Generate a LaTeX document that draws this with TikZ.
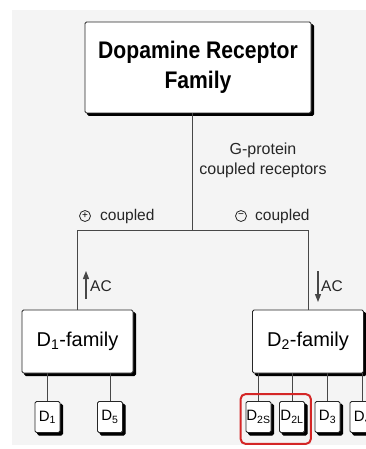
\documentclass[tikz,border=0pt]{standalone}
\usepackage{fontspec}
\setmainfont{Liberation Sans}
\newfontfamily\narrowsans[FakeStretch=0.88]{Liberation Sans}
\usetikzlibrary{arrows.meta,calc}
\definecolor{paper}{HTML}{F4F4F4}
\definecolor{ink}{HTML}{262626}
\definecolor{hilite}{HTML}{D42626}
\begin{document}
\begin{tikzpicture}[x=1pt,y=-1pt,
  conn/.style={draw=ink!85, line width=0.8pt},
  shadowbox/.style={draw=ink, fill=white, line width=0.8pt, rounded corners=1.5pt,
    preaction={draw=black, fill=black, line width=0.8pt,
      transform canvas={xshift=2.6pt, yshift=-2.6pt}}},
  family/.style={shadowbox, minimum width=111pt, minimum height=63pt, inner sep=0pt,
    font=\fontsize{20}{24}\selectfont},
  subtype/.style={shadowbox, minimum width=25pt, minimum height=31pt, inner sep=0pt,
    font=\fontsize{15}{18}\selectfont},
  label/.style={inner sep=0pt, text=ink, font=\fontsize{15.5}{19}\selectfont},
  sign/.style={circle, draw=ink, line width=0.8pt, minimum size=11pt, inner sep=0pt,
    font=\fontsize{10}{10}\selectfont},
  actip/.style={conn, line width=1.1pt, -{Triangle[length=8pt,width=6pt]}}]

% page and grey background
\useasboundingbox (0,0) rectangle (366,449);
\fill[paper] (12,10) rectangle (366,445);

% top box
\node[shadowbox, minimum width=226pt, minimum height=91pt, inner sep=0pt,
  align=center, font=\narrowsans\bfseries\fontsize{24}{30}\selectfont] (root) at (198,67.5)
  {Dopamine Receptor\\Family};

% family boxes
\node[family] (d1fam) at (77.5,341.5) {D\textsubscript{1}-family};
\node[family] (d2fam) at (308,341.5) {D\textsubscript{2}-family};

% subtype boxes
\node[subtype] (d1)  at (47.5,417) {D\textsubscript{1}};
\node[subtype] (d5)  at (110,417) {D\textsubscript{5}};
\node[subtype] (d2s) at (258.5,417) {D\textsubscript{2S}};
\node[subtype] (d2l) at (292,417) {D\textsubscript{2L}};
\node[subtype] (d3)  at (327.5,417) {D\textsubscript{3}};
\node[subtype] (d4)  at (362.5,417) {D\textsubscript{4}};

% branching tree
\coordinate (hub) at (192,230);
\draw[conn] (root.south -| hub) -- (hub);
\draw[conn] (d1fam.north) -- (d1fam.north |- hub) -- (d2fam.north |- hub) -- (d2fam.north);
\foreach \s/\f in {d1/d1fam, d5/d1fam, d2s/d2fam, d2l/d2fam, d3/d2fam, d4/d2fam}
  \draw[conn] (\s.north) -- (\s.north |- \f.south);

% pathway labels
\node[label, align=center, font=\fontsize{16}{20}\selectfont] (gp) at (263,160)
  {G-protein\\coupled receptors};
\node[sign] (plus) at (85,216) {+};
\node[label, anchor=west] (pc) at (100,216) {coupled};
\node[sign] (minus) at (241,216) {\symbol{"2212}};
\node[label, anchor=west] (mc) at (255,216) {coupled};

% adenylyl cyclase arrows
\coordinate (upfrom) at (86,299);
\coordinate (upto) at (86,271);
\draw[actip] (upfrom) -- (upto);
\node[label, anchor=west] (acup) at (90,286) {AC};
\coordinate (dnfrom) at (318,271);
\coordinate (dnto) at (318,302);
\draw[actip] (dnfrom) -- (dnto);
\node[label, anchor=west] (acdn) at (321,286) {AC};

% highlight around the D2 isoforms
\draw[hilite, line width=2pt, rounded corners=5pt]
  ($(d2s.north west)+(-5,-7)$) rectangle ($(d2l.south east)+(6,11)$);
\end{tikzpicture}
\end{document}
